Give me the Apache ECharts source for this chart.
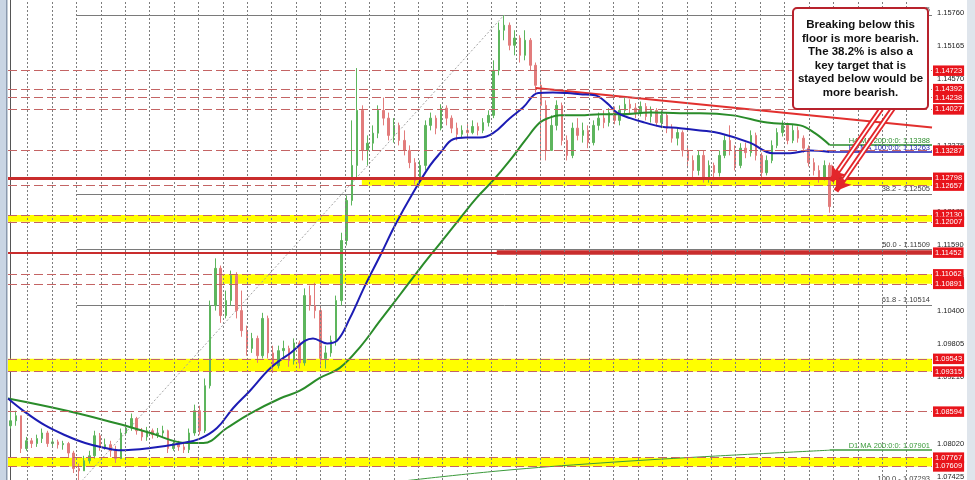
<!DOCTYPE html>
<html><head><meta charset="utf-8">
<script src="https://cdn.jsdelivr.net/npm/echarts@6/dist/echarts.min.js"></script>
<style>html,body{margin:0;padding:0;background:#fff}#c{width:975px;height:480px}</style>
</head><body><div id="c"></div>
<script>
// ---------- DATA ----------
const SLOTS = 176;            // bar slots on the time axis (incl. right shift area)
const firstOpen = 1.0834;
const closes = [
1.0843,1.0852,1.0793,1.0807,1.0802,1.0811,1.0821,1.0802,1.0805,1.0800,
1.0802,1.0785,1.0757,1.0753,1.0771,1.0780,1.0816,1.0796,1.0800,1.0789,
1.0775,1.0821,1.0830,1.0847,1.0825,1.0814,1.0825,1.0818,1.0821,1.0825,
1.0793,1.0802,1.0796,1.0791,1.0821,1.0861,1.0825,1.0906,1.1050,1.1117,
1.1032,1.1059,1.1104,1.1041,1.1005,1.0973,1.0991,1.0960,1.1027,1.0965,
1.0942,1.0969,1.0973,1.0951,1.0983,1.0947,1.1068,1.1050,1.1041,1.0955,
1.0965,1.0987,1.1059,1.1167,1.1239,1.1302,1.1401,1.1329,1.1342,1.1360,
1.1401,1.1387,1.1356,1.1374,1.1347,1.1329,1.1307,1.1275,1.1302,1.1374,
1.1387,1.1369,1.1405,1.1387,1.1369,1.1358,1.1365,1.1361,1.1372,1.1365,
1.1379,1.1392,1.1473,1.1545,1.1554,1.1518,1.1531,1.1500,1.1527,1.1482,
1.1446,1.1410,1.1329,1.1374,1.1410,1.1347,1.1320,1.1369,1.1356,1.1365,
1.1343,1.1374,1.1387,1.1379,1.1397,1.1383,1.1401,1.1412,1.1405,1.1397,
1.1408,1.1390,1.1401,1.1379,1.1392,1.1369,1.1351,1.1361,1.1329,1.1311,
1.1293,1.1320,1.1279,1.1302,1.1289,1.1320,1.1347,1.1329,1.1302,1.1333,
1.1325,1.1356,1.1320,1.1289,1.1311,1.1338,1.1361,1.1374,1.1347,1.1365,
1.1351,1.1333,1.1307,1.1293,1.1279,1.1302,1.1228];
const highs = [
1.0861,1.0861,1.0852,1.0814,1.0812,1.0818,1.0829,1.0825,1.0812,1.0809,
1.0807,1.0805,1.0789,1.0766,1.0780,1.0789,1.0825,1.0821,1.0811,1.0807,
1.0798,1.0829,1.0839,1.0856,1.0850,1.0830,1.0832,1.0829,1.0830,1.0834,
1.0827,1.0807,1.0807,1.0803,1.0829,1.0872,1.0870,1.0919,1.1059,1.1135,
1.1122,1.1077,1.1113,1.1110,1.1077,1.1014,1.1001,1.0996,1.1037,1.1032,
1.0978,1.0978,1.0987,1.0978,1.0991,1.0987,1.1081,1.1086,1.1091,1.1050,
1.0978,1.0996,1.1068,1.1181,1.1248,1.1383,1.1477,1.1410,1.1356,1.1374,
1.1410,1.1424,1.1397,1.1387,1.1379,1.1365,1.1338,1.1315,1.1311,1.1383,
1.1397,1.1392,1.1412,1.1410,1.1392,1.1379,1.1374,1.1376,1.1383,1.1379,
1.1387,1.1401,1.1491,1.1559,1.1572,1.1559,1.1545,1.1536,1.1545,1.1531,
1.1487,1.1455,1.1419,1.1392,1.1419,1.1415,1.1356,1.1379,1.1387,1.1379,
1.1374,1.1383,1.1397,1.1401,1.1405,1.1408,1.1410,1.1423,1.1421,1.1414,
1.1417,1.1414,1.1408,1.1405,1.1401,1.1397,1.1376,1.1369,1.1365,1.1338,
1.1320,1.1329,1.1329,1.1311,1.1307,1.1329,1.1356,1.1374,1.1338,1.1342,
1.1343,1.1365,1.1361,1.1325,1.1320,1.1347,1.1369,1.1383,1.1379,1.1376,
1.1372,1.1356,1.1338,1.1315,1.1302,1.1311,1.1307];
const lows = [
1.0829,1.0834,1.0785,1.0789,1.0794,1.0796,1.0803,1.0796,1.0794,1.0793,
1.0791,1.0778,1.0749,1.0730,1.0753,1.0766,1.0775,1.0789,1.0791,1.0778,
1.0767,1.0775,1.0816,1.0825,1.0818,1.0807,1.0807,1.0811,1.0812,1.0814,
1.0785,1.0789,1.0789,1.0785,1.0785,1.0816,1.0818,1.0821,1.0901,1.1041,
1.1019,1.1027,1.1050,1.1027,1.0994,1.0960,1.0965,1.0947,1.0955,1.0955,
1.0929,1.0937,1.0955,1.0940,1.0944,1.0937,1.0942,1.1041,1.1027,1.0942,
1.0937,1.0958,1.0978,1.1050,1.1158,1.1230,1.1279,1.1311,1.1302,1.1329,
1.1351,1.1374,1.1347,1.1343,1.1338,1.1320,1.1297,1.1268,1.1270,1.1293,
1.1365,1.1358,1.1365,1.1374,1.1360,1.1347,1.1351,1.1352,1.1358,1.1356,
1.1360,1.1372,1.1387,1.1464,1.1527,1.1509,1.1500,1.1487,1.1491,1.1473,
1.1433,1.1311,1.1311,1.1329,1.1365,1.1338,1.1311,1.1315,1.1347,1.1343,
1.1333,1.1338,1.1365,1.1369,1.1372,1.1376,1.1374,1.1392,1.1394,1.1387,
1.1390,1.1383,1.1379,1.1372,1.1369,1.1360,1.1343,1.1338,1.1318,1.1297,
1.1279,1.1284,1.1271,1.1271,1.1275,1.1282,1.1315,1.1320,1.1293,1.1297,
1.1315,1.1318,1.1311,1.1279,1.1284,1.1306,1.1333,1.1354,1.1340,1.1342,
1.1343,1.1325,1.1300,1.1284,1.1271,1.1275,1.1217];

// moving averages: [bar index, price]
const ma100H4 = [[-0.5,1.0883],[2.7,1.0859],[6.5,1.0835],[10.4,1.0817],[14.2,1.0803],[18.0,1.0794],[20.5,1.0790],
[26.6,1.0794],[32.8,1.0803],[36.1,1.0811],[39.3,1.0830],[42.4,1.0866],[45.6,1.0897],[49.4,1.0937],[53.2,1.0964],
[57.6,1.0991],[60.3,1.0982],[62.2,1.0987],[64.6,1.1027],[67.5,1.1086],[70.4,1.1140],[73.2,1.1194],[76.6,1.1252],
[79.9,1.1302],[81.8,1.1324],[84.3,1.1349],[86.7,1.1352],[89.4,1.1352],[91.9,1.1360],[95.1,1.1387],[97.6,1.1406],
[100.5,1.1432],[103.3,1.1433],[106.0,1.1432],[108.5,1.1430],[111.3,1.1428],[113.6,1.1414],[115.5,1.1397],
[118.0,1.1387],[120.8,1.1379],[123.7,1.1372],[127.5,1.1369],[131.3,1.1365],[135.1,1.1360],[140.8,1.1343],
[145.2,1.1324],[148.5,1.1324],[152.3,1.1329],[156.0,1.13263]];
const ma200H4 = [[-0.5,1.0883],[10.7,1.0861],[20.3,1.0838],[26.6,1.0821],[33.6,1.0803],[36.7,1.0803],[41.2,1.0830],
[45.6,1.0856],[51.3,1.0883],[55.1,1.0897],[58.9,1.0920],[62.7,1.0938],[66.6,1.0976],[70.3,1.1022],[74.2,1.1070],
[78.0,1.1117],[81.8,1.1162],[85.6,1.1207],[88.8,1.1244],[91.9,1.1275],[95.1,1.1311],[98.0,1.1347],[100.8,1.1379],
[102.7,1.1388],[104.6,1.1392],[108.5,1.1392],[112.3,1.1394],[116.1,1.1394],[121.8,1.1397],[127.5,1.1396],
[131.3,1.1396],[137.6,1.1392],[144.1,1.1379],[150.4,1.1374],[153.2,1.1360],[156.0,1.13388]];
const ma200D1 = [[73.2,1.0733],[93.2,1.0753],[112.3,1.0767],[131.3,1.0778],[156.0,1.07901]];

const yTicks = [1.15760,1.15165,1.14570,1.13975,1.13375,1.12780,1.12185,1.11590,1.10995,1.10400,1.09805,1.09210,1.08615,1.08020,1.07425];
const dashedLevels = [1.14723,1.14392,1.14238,1.14027,1.13287,1.12657,1.12130,1.12007,1.11062,1.10891,1.09543,1.09315,1.08594,1.07767,1.07609];
const floorLevel = 1.12798;
const supportLevel = 1.11452;
const bidPrice = 1.12280;
// yellow zones: [low, high, first bar]
const zones = [[1.12657,1.12798,66.9],[1.12007,1.12130,-0.5],[1.10891,1.11062,40.3],[1.09315,1.09543,-0.5],[1.07609,1.07767,-0.5]];
const supportBoldFrom = 92.6;
// fibonacci retracement drawn from the low (bar 13) to the high (bar 94)
const fibLow = [13, 1.07293], fibHigh = [94, 1.15725];
const fibNames = ['0.0', '38.2', '50.0', '61.8', '100.0'];
const fibPrices = [1.15725, 1.12505, 1.11509, 1.10514, 1.07293];
const fibStart = 12.6;
// trend line (lower highs)
const trendLine = [[100.0,1.1441],[175.5,1.1370]];
// arrows [start, tip]
const arrows = [[[166.2,1.1409],[156.3,1.1274]],[[168.1,1.1405],[157.2,1.1256]]];
const noteText = 'Breaking below this\nfloor is more bearish.\nThe 38.2% is also a\nkey target that is\nstayed below would be\nmore bearish.';

// ---------- CHART ----------
const FONT = 'Liberation Sans';
const UP = '#5db55d', DOWN = '#e27c7c';
const LVL_RED = '#e8141b', LINE_RED = '#c92d2d', DASH_RED = '#c46464';
const BLUE = '#1c1cb4', GREEN = '#2a8c2a';
const xMax = SLOTS - 0.5;
const yMin = 1.07365, yMax = 1.15994;
const slots = Array.from({length: SLOTS}, (_, i) => String(i));
const candles = closes.map((c, i) => [i ? closes[i - 1] : firstOpen, c, lows[i], highs[i]]);
// period separators every 6 bars of the original chart
const gridXs = [];
for (let k = 0; k < 40; k++) { const v = 3.214 + k * 4.6514; if (v < xMax - 0.2) gridXs.push(v); }

function redLabel(bg) {
  return {show: true, position: 'end', distance: 1, formatter: p => Number(p.value).toFixed(5),
    backgroundColor: bg, color: '#fff', fontSize: 7.5, fontFamily: FONT, padding: [1.5, 2, 1, 2], lineHeight: 8};
}
const fibLines = fibPrices.map((p, k) => ({coords: [[fibStart, p], [xMax, p]],
  label: {formatter: fibNames[k] + ' - ' + p.toFixed(5)}}));
function maEnd(series, color, text) {
  const v = series[series.length - 1];
  return {silent: true, symbol: ['none', 'none'], precision: 5,
    data: [[{coord: [v[0], v[1]]}, {coord: [xMax, v[1]]}]],
    lineStyle: {color: color, width: 1.5, type: 'solid'},
    label: {show: true, position: 'insideEndTop', distance: [2, 0], formatter: text, color: color, fontSize: 7.5, fontFamily: FONT}};
}

const chart = echarts.init(document.getElementById('c'));
chart.setOption({
  animation: false,
  backgroundColor: '#ffffff',
  grid: {left: 8, right: 43, top: 0, bottom: 0, containLabel: false, outerBoundsMode: 'none'},
  xAxis: [
    {type: 'category', data: slots, boundaryGap: true, show: false},
    {type: 'value', min: -0.5, max: xMax, show: false}
  ],
  yAxis: {
    type: 'value', position: 'right', min: yMin, max: yMax,
    splitLine: {show: false},
    axisLine: {show: true, lineStyle: {color: '#555', width: 1}},
    axisTick: {show: false},
    axisLabel: {customValues: yTicks, formatter: v => v.toFixed(5), color: '#222', fontSize: 7.5, fontFamily: FONT, margin: 5}
  },
  series: [
    {type: 'line', xAxisIndex: 1, data: [], z: 1, silent: true,
     markArea: {silent: true, itemStyle: {color: '#ffff00'},
       data: zones.map(z => [{coord: [z[2], z[1]]}, {coord: [xMax, z[0]]}])}},
    {type: 'line', xAxisIndex: 1, data: [], z: 1, silent: true,
     markLine: {silent: true, symbol: ['none', 'none'], precision: 4, label: {show: false},
       lineStyle: {color: '#7d7d7d', width: 1, type: [2, 2]},
       data: gridXs.map(v => ({xAxis: v}))}},
    {type: 'lines', coordinateSystem: 'cartesian2d', xAxisIndex: 1, z: 2, silent: true, clip: false,
     lineStyle: {color: '#7a7a7a', width: 1, opacity: 1},
     label: {show: true, position: 'insideEndTop', distance: [2, 1], color: '#404040', fontSize: 7.5, fontFamily: FONT},
     data: fibLines},
    {type: 'lines', coordinateSystem: 'cartesian2d', xAxisIndex: 1, z: 2, silent: true,
     lineStyle: {color: '#a5a5a5', width: 1, type: [2, 2], opacity: 1},
     data: [{coords: [fibLow, fibHigh]}]},
    {type: 'line', xAxisIndex: 1, data: [], z: 2, silent: true,
     markLine: {silent: true, symbol: ['none', 'none'], precision: 5,
       data: [
         {yAxis: floorLevel, lineStyle: {color: LINE_RED, width: 3, type: 'solid'}, label: redLabel(LVL_RED)},
         {yAxis: supportLevel, lineStyle: {color: LINE_RED, width: 2, type: 'solid'}, label: redLabel(LVL_RED)},
         {yAxis: bidPrice, lineStyle: {opacity: 0, width: 0}, label: redLabel('#000000')}
       ]}},
    {type: 'line', xAxisIndex: 1, data: [], z: 2, silent: true,
     markLine: {silent: true, symbol: ['none', 'none'], precision: 5,
       lineStyle: {color: DASH_RED, width: 1, type: [9, 4]},
       label: redLabel(LVL_RED),
       data: dashedLevels.map(v => ({yAxis: v}))}},
    {type: 'lines', coordinateSystem: 'cartesian2d', xAxisIndex: 1, z: 2, silent: true,
     lineStyle: {color: LINE_RED, width: 4.5, opacity: 1},
     data: [{coords: [[supportBoldFrom, supportLevel], [xMax, supportLevel]]}]},
    {type: 'candlestick', xAxisIndex: 0, data: candles, barWidth: 2, z: 3, silent: true,
     itemStyle: {color: UP, color0: DOWN, borderColor: UP, borderColor0: DOWN, borderWidth: 1}},
    {type: 'line', xAxisIndex: 1, data: ma200D1, smooth: 0.4, showSymbol: false, z: 4, silent: true,
     lineStyle: {color: '#3b9a3b', width: 1},
     markLine: maEnd(ma200D1, '#3b9a3b', 'D1 MA 200:0:0: 1.07901')},
    {type: 'line', xAxisIndex: 1, data: ma200H4, smooth: 0.4, showSymbol: false, z: 4, silent: true,
     lineStyle: {color: GREEN, width: 2},
     markLine: maEnd(ma200H4, GREEN, 'H4 MA 200:0:0: 1.13388')},
    {type: 'line', xAxisIndex: 1, data: ma100H4, smooth: 0.4, showSymbol: false, z: 4, silent: true,
     lineStyle: {color: BLUE, width: 2},
     markLine: maEnd(ma100H4, BLUE, 'H4 MA 100:0:0: 1.13263')},
    {type: 'lines', coordinateSystem: 'cartesian2d', xAxisIndex: 1, z: 4, silent: true, clip: false,
     lineStyle: {color: '#e2302e', width: 2, opacity: 1},
     data: [{coords: trendLine}]},
    {type: 'lines', coordinateSystem: 'cartesian2d', xAxisIndex: 1, z: 6, silent: true, clip: false,
     symbol: ['none', 'arrow'], symbolSize: 14,
     lineStyle: {color: '#e3262b', width: 5.5, opacity: 1},
     data: arrows.map(a => ({coords: a}))},
    {type: 'lines', coordinateSystem: 'cartesian2d', xAxisIndex: 1, z: 6, silent: true, clip: false,
     lineStyle: {color: '#ffffff', width: 1.8, opacity: 1},
     data: arrows.map(a => ({coords: [a[0], [a[1][0] + (a[0][0] - a[1][0]) * 0.14, a[1][1] + (a[0][1] - a[1][1]) * 0.14]]}))}
  ],
  graphic: [
    {type: 'rect', z: 100, shape: {x: 0, y: 0, width: 6, height: 480}, style: {fill: '#c9d5e4'}},
    {type: 'rect', z: 100, shape: {x: 6, y: 0, width: 1.5, height: 480}, style: {fill: '#8a99ae'}},
    {type: 'rect', z: 100, shape: {x: 967, y: 0, width: 8, height: 480}, style: {fill: '#dfe5ec'}},
    {type: 'rect', z: 100, shape: {x: 793, y: 8, width: 135, height: 101, r: 4},
     style: {fill: '#ffffff', stroke: '#b8222c', lineWidth: 2}},
    {type: 'text', z: 101, x: 860.5, y: 18,
     style: {text: noteText, fill: '#111', align: 'center', verticalAlign: 'top',
       font: 'bold 11.5px "Liberation Sans"', lineHeight: 13.6}}
  ]
});
</script></body></html>
